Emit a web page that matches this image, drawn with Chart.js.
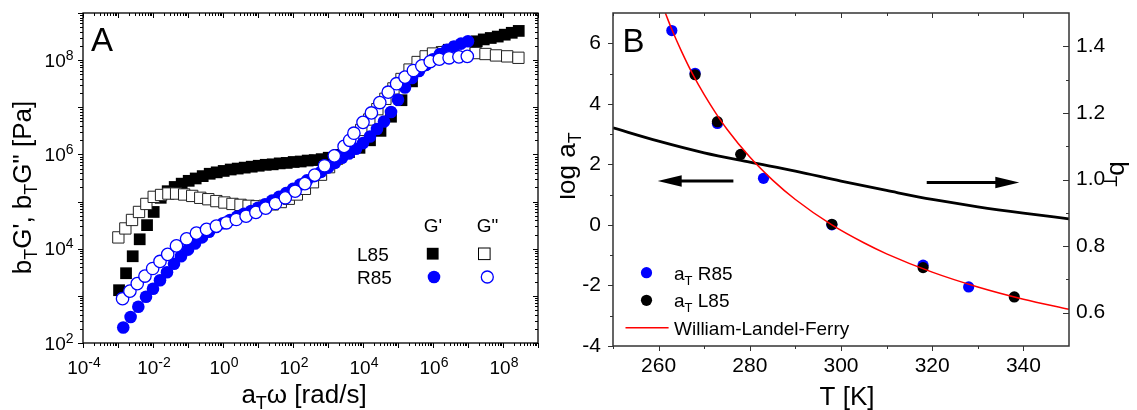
<!DOCTYPE html>
<html><head><meta charset="utf-8">
<script src="https://cdn.jsdelivr.net/npm/chart.js@4.4.1/dist/chart.umd.min.js"></script>
<style>
html,body{margin:0;padding:0;background:#fff;}
#wrap{position:relative;width:1137px;height:410px;overflow:hidden;}
#boxA{position:absolute;left:0;top:0;width:560px;height:410px;}
#boxB{position:absolute;left:560px;top:0;width:577px;height:410px;}
</style></head><body>
<div id="wrap"><div id="boxA"><canvas id="cA" width="560" height="410"></canvas></div><div id="boxB"><canvas id="cB" width="577" height="410"></canvas></div></div>
<script>
// ---------------- Panel A data (log10 values) ----------------
const l85GpLogW  = [-2.97,-2.77,-2.58,-2.38,-2.17,-1.98,-1.78,-1.58,-1.38,-1.18,-0.98,-0.78,-0.58,-0.38,-0.18,0.02,0.22,0.42,0.62,0.82,1.02,1.22,1.42,1.62,1.82,2.02,2.22,2.42,2.62,2.82,3.02,3.3,3.6,3.9,4.2,4.5,4.8,5.1,5.4,5.7,6.0,6.25,6.45,6.65,6.85,7.05,7.25,7.45,7.65,7.85,8.05,8.25,8.45];
const l85GpLogG  = [3.12,3.48,3.84,4.2,4.5,4.78,5.08,5.22,5.31,5.38,5.44,5.49,5.54,5.59,5.62,5.65,5.68,5.7,5.72,5.74,5.76,5.78,5.79,5.81,5.82,5.84,5.85,5.87,5.88,5.9,5.93,5.99,6.05,6.14,6.3,6.5,6.8,7.15,7.55,7.9,8.08,8.17,8.22,8.27,8.31,8.36,8.4,8.44,8.47,8.5,8.54,8.58,8.62];
const l85GppLogW = [-2.99,-2.79,-2.6,-2.4,-2.19,-1.98,-1.77,-1.56,-1.34,-1.11,-0.88,-0.65,-0.42,-0.19,0.04,0.27,0.5,0.73,0.96,1.19,1.42,1.65,1.88,2.11,2.34,2.57,2.8,3.03,3.26,3.49,3.72,3.95,4.18,4.41,4.64,4.87,5.1,5.33,5.56,5.79,6.0,6.3,6.6,6.9,7.22,7.5,7.8,8.12,8.44];
const l85GppLogG = [4.24,4.43,4.61,4.78,4.95,5.1,5.14,5.17,5.17,5.15,5.12,5.08,5.05,5.01,4.98,4.95,4.93,4.91,4.9,4.91,4.94,4.99,5.06,5.15,5.27,5.41,5.57,5.73,5.91,6.09,6.3,6.52,6.74,6.96,7.18,7.4,7.6,7.8,7.96,8.08,8.14,8.17,8.18,8.17,8.15,8.13,8.1,8.08,8.05];
const r85GpLogW  = [-2.85,-2.64,-2.42,-2.2,-2.0,-1.8,-1.6,-1.4,-1.2,-1.0,-0.8,-0.6,-0.4,-0.2,0.0,0.2,0.4,0.6,0.8,1.0,1.2,1.4,1.6,1.8,2.0,2.2,2.4,2.6,2.8,3.0,3.2,3.4,3.6,3.8,4.0,4.2,4.4,4.6,4.8,5.0,5.2,5.4,5.6,5.8,6.0,6.2,6.4,6.6,6.8,7.0];
const r85GpLogG  = [2.33,2.55,2.77,2.98,3.15,3.33,3.5,3.68,3.84,3.98,4.11,4.24,4.36,4.46,4.54,4.61,4.68,4.74,4.8,4.87,4.94,5.02,5.1,5.18,5.27,5.36,5.45,5.54,5.63,5.72,5.82,5.93,6.02,6.12,6.24,6.38,6.54,6.7,6.9,7.16,7.42,7.62,7.77,7.9,8.02,8.13,8.22,8.29,8.35,8.4];
const r85GppLogW = [-2.87,-2.66,-2.45,-2.23,-2.01,-1.8,-1.58,-1.33,-1.04,-0.76,-0.47,-0.19,0.1,0.38,0.66,0.94,1.22,1.5,1.78,2.06,2.34,2.62,2.9,3.18,3.46,3.62,3.74,4.0,4.24,4.48,4.72,4.96,5.2,5.44,5.68,5.92,6.18,6.46,6.74,6.98];
const r85GppLogG = [2.94,3.1,3.26,3.42,3.58,3.73,3.88,4.06,4.21,4.33,4.41,4.48,4.55,4.62,4.69,4.77,4.86,4.96,5.08,5.22,5.38,5.56,5.76,5.97,6.17,6.3,6.45,6.68,6.88,7.1,7.32,7.5,7.64,7.78,7.88,7.97,8.02,8.05,8.07,8.08];
const aXLabelExps = [-4,-2,0,2,4,6,8];
const aYLabelExps = [2,4,6,8];

// ---------------- Panel B data ----------------
const r85T     = [262.9, 268.0, 272.9, 283.0, 298.0, 318.0, 328.0];
const r85LogAT = [6.42, 5.01, 3.35, 1.54, 0.0, -1.33, -2.05];
const l85T     = [268.0, 272.9, 278.0, 298.0, 318.0, 338.0];
const l85LogAT = [4.96, 3.41, 2.33, 0.02, -1.41, -2.38];
const wlfT     = [261.5,263,265,267.5,270,272.5,275,280,285,290,298,305,310,320,330,340,350];
const wlfLogAT = [6.99,6.42,5.74,4.97,4.30,3.70,3.16,2.24,1.48,0.84,0,-0.59,-0.955,-1.56,-2.05,-2.455,-2.79];
const bTT      = [250,260,270,280,290,300,310,320,330,340,350];
const bTVal    = [1.155,1.115,1.08,1.052,1.025,0.995,0.967,0.94,0.918,0.899,0.882];
const bXTicks  = [260,280,300,320,340];
const bXMinor  = [250,270,290,310,330];
const bYTicks  = [-4,-2,0,2,4,6];
const bYMinor  = [-3,-1,1,3,5];
const bY2Ticks = [0.6,0.8,1.0,1.2,1.4];
const bY2Minor = [0.7,0.9,1.1,1.3];

// ---------------- common ----------------
const FF = '"Liberation Sans", Arial, Helvetica, sans-serif';
Chart.defaults.font.family = FF;
Chart.defaults.color = '#000';
const p10 = v => Math.pow(10, v);
const toPts = (xs, ys, fx, fy) => xs.map((v, i) => ({x: fx(v), y: fy(ys[i])}));
const ident = v => v;
const noPad = s => { s.paddingTop = 0; s.paddingBottom = 0; s.paddingLeft = 0; s.paddingRight = 0; };

function rich(ctx, parts, x, y, rot, align) {
  ctx.save();
  ctx.translate(x, y); ctx.rotate(rot || 0);
  let w = 0;
  parts.forEach(p => { ctx.font = p.s + 'px ' + FF; p.w = ctx.measureText(p.t).width; w += p.w; });
  let cx = align === 'center' ? -w / 2 : (align === 'right' ? -w : 0);
  ctx.textAlign = 'left'; ctx.textBaseline = 'alphabetic'; ctx.fillStyle = '#000';
  parts.forEach(p => { ctx.font = p.s + 'px ' + FF; ctx.fillText(p.t, cx, p.dy || 0); cx += p.w; });
  ctx.restore();
}
function supLabel(ctx, exp, x, y, align) {
  ctx.font = '19px ' + FF; const wb = ctx.measureText('10').width;
  ctx.font = '14px ' + FF; const we = ctx.measureText(String(exp)).width;
  const x0 = align === 'center' ? x - (wb + we) / 2 : x - (wb + we);
  ctx.textAlign = 'left'; ctx.textBaseline = 'alphabetic'; ctx.fillStyle = '#000';
  ctx.font = '19px ' + FF; ctx.fillText('10', x0, y);
  ctx.font = '14px ' + FF; ctx.fillText(String(exp), x0 + wb, y - 7);
}

// ---------------- Panel A ----------------
const panelAPlugin = {
  id: 'panelA',
  afterDraw(chart) {
    const {ctx, chartArea: ca, scales: {x, y}} = chart;
    ctx.save();
    ctx.strokeStyle = '#000'; ctx.lineWidth = 1;
    ctx.beginPath();
    const x0 = Math.round(Math.log10(x.min)), x1 = Math.round(Math.log10(x.max));
    for (let e = x0; e <= x1; e++) {
      for (let k = 1; k <= 9; k++) {
        const v = k * Math.pow(10, e);
        if (v > x.max * 1.0001) continue;
        const px = Math.round(x.getPixelForValue(v)) + 0.5, L = k === 1 ? 5 : 3;
        ctx.moveTo(px, ca.bottom); ctx.lineTo(px, ca.bottom + L);
        ctx.moveTo(px, ca.top); ctx.lineTo(px, ca.top + L);
      }
    }
    const y0 = Math.round(Math.log10(y.min)), y1 = Math.round(Math.log10(y.max));
    for (let e = y0; e <= y1; e++) {
      for (let k = 1; k <= 9; k++) {
        const v = k * Math.pow(10, e);
        if (v > y.max * 1.0001) continue;
        const py = Math.round(y.getPixelForValue(v)) + 0.5, L = k === 1 ? 5 : 3;
        ctx.moveTo(ca.left, py); ctx.lineTo(ca.left - L, py);
        ctx.moveTo(ca.right, py); ctx.lineTo(ca.right - L, py);
      }
    }
    ctx.stroke();
    ctx.lineWidth = 1.3;
    ctx.strokeRect(ca.left, ca.top, ca.right - ca.left, ca.bottom - ca.top);
    // tick labels
    aXLabelExps.forEach(e => supLabel(ctx, e, x.getPixelForValue(p10(e)) + 1, ca.bottom + 30.5, 'center'));
    aYLabelExps.forEach(e => supLabel(ctx, e, ca.left - 9.5, y.getPixelForValue(p10(e)) + 6.7, 'right'));
    // titles
    rich(ctx, [{t: 'a', s: 26}, {t: 'T', s: 18, dy: 6}, {t: 'ω [rad/s]', s: 26}], 304, 403, 0, 'center');
    rich(ctx, [{t: 'b', s: 26}, {t: 'T', s: 18, dy: 6}, {t: "G', b", s: 26}, {t: 'T', s: 18, dy: 6}, {t: 'G" [Pa]', s: 26}], 31, 187.5, -Math.PI / 2, 'center');
    // panel letter
    ctx.font = '33px ' + FF; ctx.fillStyle = '#000'; ctx.textAlign = 'left'; ctx.textBaseline = 'alphabetic';
    ctx.fillText('A', 91, 50.7);
    // legend
    ctx.font = '19px ' + FF; ctx.textAlign = 'center';
    ctx.fillText("G'", 433, 232); ctx.fillText('G"', 487.5, 232);
    ctx.textAlign = 'left';
    ctx.fillText('L85', 357, 261); ctx.fillText('R85', 357, 284);
    ctx.fillStyle = '#000'; ctx.fillRect(426.8, 247.8, 11.8, 11.8);
    ctx.fillStyle = '#fff'; ctx.fillRect(478.5, 248, 11.6, 11.6);
    ctx.strokeStyle = '#000'; ctx.lineWidth = 1; ctx.strokeRect(478.5, 248, 11.6, 11.6);
    ctx.fillStyle = '#0000ff'; ctx.beginPath(); ctx.arc(434, 277, 6.3, 0, Math.PI * 2); ctx.fill();
    ctx.fillStyle = '#fff'; ctx.strokeStyle = '#0000ff'; ctx.lineWidth = 1.3;
    ctx.beginPath(); ctx.arc(487.3, 277, 6, 0, Math.PI * 2); ctx.fill(); ctx.stroke();
    ctx.restore();
  }
};

new Chart(document.getElementById('cA'), {
  type: 'scatter',
  data: {
    datasets: [
      {label: "L85 G'", data: toPts(l85GpLogW, l85GpLogG, p10, p10), pointStyle: 'rect', pointRadius: 8.3, backgroundColor: '#000', borderColor: '#000', borderWidth: 0, order: 4},
      {label: 'L85 G"', data: toPts(l85GppLogW, l85GppLogG, p10, p10), pointStyle: 'rect', pointRadius: 8.0, backgroundColor: '#fff', borderColor: '#222', borderWidth: 1, order: 3},
      {label: "R85 G'", data: toPts(r85GpLogW, r85GpLogG, p10, p10), pointStyle: 'circle', pointRadius: 6.3, backgroundColor: '#0000ff', borderColor: '#0000ff', borderWidth: 0, order: 2},
      {label: 'R85 G"', data: toPts(r85GppLogW, r85GppLogG, p10, p10), pointStyle: 'circle', pointRadius: 6.2, backgroundColor: '#fff', borderColor: '#0000ff', borderWidth: 1.3, order: 1}
    ]
  },
  options: {
    responsive: false, animation: false, devicePixelRatio: 1, events: [],
    layout: {padding: {top: 13, right: 22, left: 0, bottom: 0}},
    plugins: {legend: {display: false}, tooltip: {enabled: false}},
    scales: {
      x: {type: 'logarithmic', min: 1e-4, max: 1e9, grid: {display: false, drawTicks: false}, border: {display: false}, ticks: {display: false},
          afterFit(s) { s.height = 67; noPad(s); }},
      y: {type: 'logarithmic', min: 1e2, max: 1e9, grid: {display: false, drawTicks: false}, border: {display: false}, ticks: {display: false},
          afterFit(s) { s.width = 83; noPad(s); }}
    }
  },
  plugins: [panelAPlugin]
});

// ---------------- Panel B ----------------
const arrowLeft = {from: 276.4, to: 259.8, at: 1.45};
const arrowRight = {from: 318.8, to: 339.1, at: 1.40};
function drawArrow(ctx, xs, ys, a) {
  const x0 = xs.getPixelForValue(a.from), x1 = xs.getPixelForValue(a.to), y = ys.getPixelForValue(a.at);
  const dir = Math.sign(x1 - x0), hl = 24, hw = 5.8;
  ctx.strokeStyle = '#000'; ctx.fillStyle = '#000'; ctx.lineWidth = 3;
  ctx.beginPath(); ctx.moveTo(x0, y); ctx.lineTo(x1 - dir * (hl - 2), y); ctx.stroke();
  ctx.beginPath(); ctx.moveTo(x1, y); ctx.lineTo(x1 - dir * hl, y - hw); ctx.lineTo(x1 - dir * hl, y + hw); ctx.closePath(); ctx.fill();
}
const panelBPlugin = {
  id: 'panelB',
  afterDraw(chart) {
    const {ctx, chartArea: ca, scales: {x, y, y2}} = chart;
    ctx.save();
    ctx.strokeStyle = '#333'; ctx.lineWidth = 1;
    ctx.beginPath();
    const xt = (vals, L) => vals.forEach(v => { const px = Math.round(x.getPixelForValue(v)) + 0.5;
      ctx.moveTo(px, ca.bottom); ctx.lineTo(px, ca.bottom + L); ctx.moveTo(px, ca.top); ctx.lineTo(px, ca.top + L); });
    xt(bXTicks, 5); xt(bXMinor, 3);
    const yt = (vals, L) => vals.forEach(v => { const py = Math.round(y.getPixelForValue(v)) + 0.5;
      ctx.moveTo(ca.left, py); ctx.lineTo(ca.left - L, py); });
    yt(bYTicks, 5); yt(bYMinor, 3);
    const y2t = (vals, L) => vals.forEach(v => { const py = Math.round(y2.getPixelForValue(v)) + 0.5;
      ctx.moveTo(ca.right, py); ctx.lineTo(ca.right - L, py); });
    y2t(bY2Ticks, 6); y2t(bY2Minor, 3);
    ctx.stroke();
    ctx.lineWidth = 1.5;
    ctx.strokeRect(ca.left, ca.top, ca.right - ca.left, ca.bottom - ca.top);
    drawArrow(ctx, x, y, arrowLeft);
    drawArrow(ctx, x, y, arrowRight);
    // titles
    rich(ctx, [{t: 'T [K]', s: 26}], 287, 405, 0, 'center');
    rich(ctx, [{t: 'log a', s: 26}, {t: 'T', s: 18, dy: 6}], 15, 166, -Math.PI / 2, 'center');
    rich(ctx, [{t: 'b', s: 26}, {t: 'T', s: 18, dy: 6}], 550, 174, Math.PI / 2, 'center');
    ctx.font = '33px ' + FF; ctx.fillStyle = '#000'; ctx.textAlign = 'left'; ctx.textBaseline = 'alphabetic';
    ctx.fillText('B', 62.5, 51.7);
    // legend
    ctx.fillStyle = '#0000ff'; ctx.beginPath(); ctx.arc(86.5, 272.7, 5.6, 0, Math.PI * 2); ctx.fill();
    ctx.fillStyle = '#000'; ctx.beginPath(); ctx.arc(86.5, 300.3, 5.6, 0, Math.PI * 2); ctx.fill();
    ctx.strokeStyle = '#ff0000'; ctx.lineWidth = 1.5; ctx.beginPath(); ctx.moveTo(65.5, 327.7); ctx.lineTo(108.6, 327.7); ctx.stroke();
    rich(ctx, [{t: 'a', s: 19}, {t: 'T', s: 13, dy: 5}, {t: ' R85', s: 19}], 114, 279.5, 0, 'left');
    rich(ctx, [{t: 'a', s: 19}, {t: 'T', s: 13, dy: 5}, {t: ' L85', s: 19}], 114, 307, 0, 'left');
    rich(ctx, [{t: 'William-Landel-Ferry', s: 19}], 114, 334.5, 0, 'left');
    ctx.restore();
  }
};

new Chart(document.getElementById('cB'), {
  type: 'scatter',
  data: {
    datasets: [
      {label: 'a_T R85', data: toPts(r85T, r85LogAT, ident, ident), pointStyle: 'circle', pointRadius: 5.6, backgroundColor: '#0000ff', borderWidth: 0, yAxisID: 'y', order: 3},
      {label: 'a_T L85', data: toPts(l85T, l85LogAT, ident, ident), pointStyle: 'circle', pointRadius: 5.6, backgroundColor: '#000', borderWidth: 0, yAxisID: 'y', order: 2},
      {label: 'William-Landel-Ferry', data: toPts(wlfT, wlfLogAT, ident, ident), showLine: true, pointRadius: 0, borderColor: '#ff0000', borderWidth: 1.5, cubicInterpolationMode: 'monotone', yAxisID: 'y', order: 1},
      {label: 'b_T', data: toPts(bTT, bTVal, ident, ident), showLine: true, pointRadius: 0, borderColor: '#000', borderWidth: 2.8, cubicInterpolationMode: 'monotone', yAxisID: 'y2', order: 4}
    ]
  },
  options: {
    responsive: false, animation: false, devicePixelRatio: 1, events: [],
    layout: {padding: {top: 13, right: 0, left: 0, bottom: 0}},
    plugins: {legend: {display: false}, tooltip: {enabled: false}},
    scales: {
      x: {type: 'linear', position: 'bottom', min: 250, max: 350, grid: {display: false, drawTicks: false}, border: {display: false},
          ticks: {font: {size: 21}, color: '#000', padding: 8, maxRotation: 0, autoSkip: false},
          afterBuildTicks(s) { s.ticks = bXTicks.map(v => ({value: v})); },
          afterFit(s) { s.height = 64; noPad(s); }},
      y: {type: 'linear', position: 'left', min: -4, max: 7, grid: {display: false, drawTicks: false}, border: {display: false},
          ticks: {font: {size: 21}, color: '#000', padding: 12, autoSkip: false},
          afterBuildTicks(s) { s.ticks = bYTicks.map(v => ({value: v})); },
          afterFit(s) { s.width = 53; noPad(s); }},
      y2: {type: 'linear', position: 'right', min: 0.5, max: 1.5, grid: {display: false, drawTicks: false}, border: {display: false},
          ticks: {font: {size: 21}, color: '#000', padding: 7, autoSkip: false, callback: v => Number(v).toFixed(1)},
          afterBuildTicks(s) { s.ticks = bY2Ticks.map(v => ({value: v})); },
          afterFit(s) { s.width = 68; noPad(s); }}
    }
  },
  plugins: [panelBPlugin]
});
</script>
</body></html>
